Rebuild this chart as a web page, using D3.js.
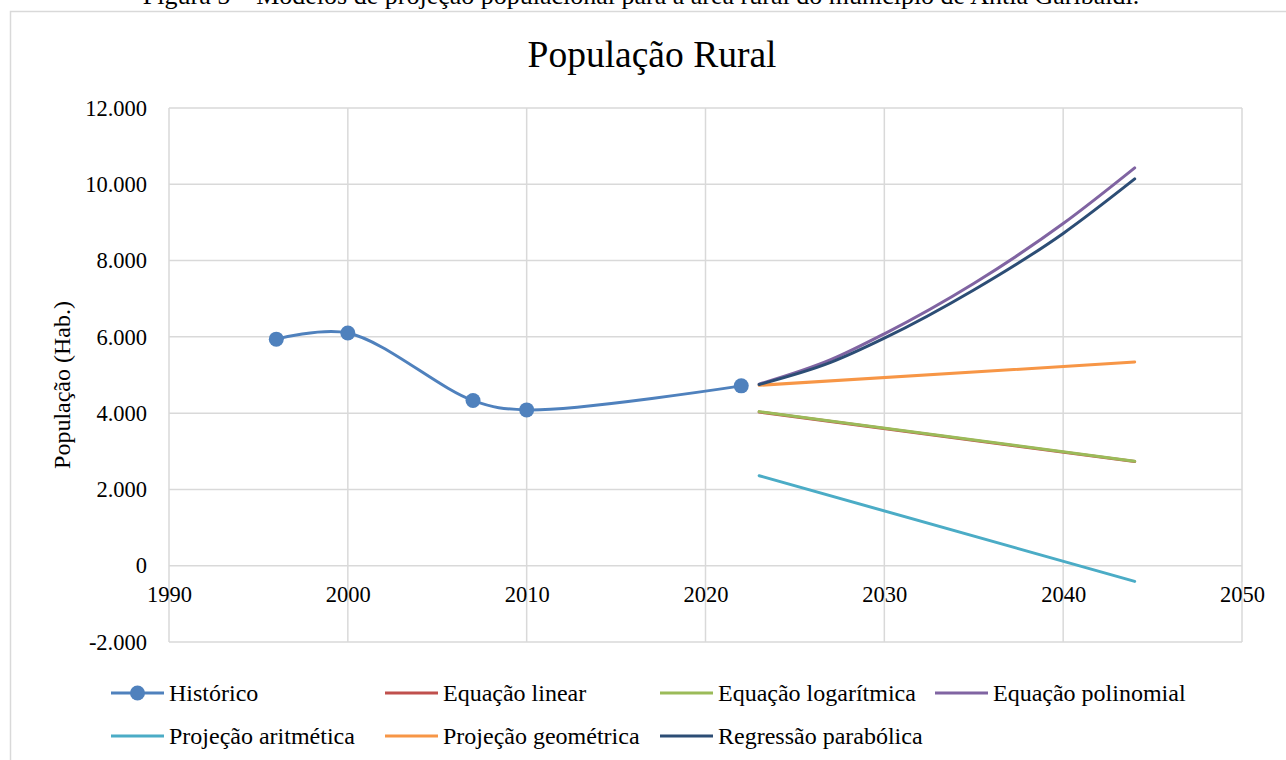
<!DOCTYPE html>
<html>
<head>
<meta charset="utf-8">
<script src="https://cdn.jsdelivr.net/npm/d3@7"></script>
<style>
  body { margin: 0; background: #fff; }
  svg { display: block; font-family: "Liberation Serif", "Times New Roman", serif; }
</style>
</head>
<body>
<div id="chart"></div>
<script>
// populacao rural - historico e projecoes

const histYears = [1996, 2000, 2007, 2010, 2022]
const histPop = [5940, 6100, 4330, 4085, 4715]

const lineYears = [2023, 2044]
const linearPop = [4030, 2730]
const logPop = [4040, 2740]
const arithPop = [2360, -410]
const geoPop = [4730, 5340]

const curveYears = [2023, 2027, 2030, 2035, 2040, 2044]
const polyPop = [4760, 5400, 6080, 7400, 8970, 10430]
const paraPop = [4750, 5330, 5965, 7230, 8712, 10140]

const xTicks = [1990, 2000, 2010, 2020, 2030, 2040, 2050]
const yTicks = [-2000, 0, 2000, 4000, 6000, 8000, 10000, 12000]

const seriesNames = ["Histórico", "Equação linear", "Equação logarítmica", "Equação polinomial",
  "Projeção aritmética", "Projeção geométrica", "Regressão parabólica"]
const seriesColors = ["#4f81bd", "#c0504d", "#9bbb59", "#8064a2", "#4bacc6", "#f79646", "#2c4d75"]

const width = 1286, height = 760
const plot = { left: 169, right: 1242, top: 108, bottom: 642 }

const ptBR = d3.formatLocale({ decimal: ",", thousands: ".", grouping: [3], currency: ["R$", ""], minus: "-" })
const fmt = ptBR.format(",d")

const svg = d3.select("#chart").append("svg")
  .attr("width", width)
  .attr("height", height)

// legenda da figura (cortada no topo)
svg.append("text")
  .attr("x", 641).attr("y", 4)
  .attr("text-anchor", "middle")
  .style("font-size", "26px")
  .text("Figura 5 – Modelos de projeção populacional para a área rural do município de Antia Garibaldi.")

// borda do grafico
svg.append("rect")
  .attr("x", 10.5).attr("y", 11.5)
  .attr("width", 1290).attr("height", 780)
  .attr("fill", "none")
  .attr("stroke", "#d9d9d9")
  .attr("stroke-width", 1.5)

const x = d3.scaleLinear().domain([1990, 2050]).range([plot.left, plot.right])
const y = d3.scaleLinear().domain([-2000, 12000]).range([plot.bottom, plot.top])

// grade
svg.append("g").selectAll("line")
  .data(yTicks).enter().append("line")
  .attr("x1", plot.left).attr("x2", plot.right)
  .attr("y1", d => y(d)).attr("y2", d => y(d))
  .attr("stroke", "#d9d9d9").attr("stroke-width", 1.5)

svg.append("g").selectAll("line")
  .data(xTicks).enter().append("line")
  .attr("x1", d => x(d)).attr("x2", d => x(d))
  .attr("y1", plot.top).attr("y2", plot.bottom)
  .attr("stroke", "#d9d9d9").attr("stroke-width", 1.5)

// eixos
const yAxis = svg.append("g")
  .attr("transform", "translate(" + plot.left + ",0)")
  .call(d3.axisLeft(y).tickValues(yTicks).tickFormat(fmt).tickSize(0).tickPadding(22))
yAxis.select(".domain").remove()
yAxis.selectAll("text").style("font-size", "22.5px").attr("fill", "#000").style("font-family", "Liberation Serif")

const xAxis = svg.append("g")
  .attr("transform", "translate(0," + y(0) + ")")
  .call(d3.axisBottom(x).tickValues(xTicks).tickFormat(d3.format("d")).tickSize(0).tickPadding(20))
xAxis.select(".domain").remove()
xAxis.selectAll("text").style("font-size", "22.5px").attr("fill", "#000").style("font-family", "Liberation Serif")

// titulo
svg.append("text")
  .attr("x", 652).attr("y", 67)
  .attr("text-anchor", "middle")
  .style("font-size", "37.5px")
  .text("População Rural")

svg.append("text")
  .attr("transform", "translate(70,385) rotate(-90)")
  .attr("text-anchor", "middle")
  .style("font-size", "24px")
  .text("População (Hab.)")

// series
const zip = (xs, ys) => xs.map((d, i) => [d, ys[i]])
const series = [
  { pts: zip(histYears, histPop), curve: d3.curveCatmullRom.alpha(0.5) },
  { pts: zip(lineYears, linearPop), curve: d3.curveLinear },
  { pts: zip(lineYears, logPop), curve: d3.curveLinear },
  { pts: zip(curveYears, polyPop), curve: d3.curveMonotoneX },
  { pts: zip(lineYears, arithPop), curve: d3.curveLinear },
  { pts: zip(lineYears, geoPop), curve: d3.curveLinear },
  { pts: zip(curveYears, paraPop), curve: d3.curveMonotoneX }
]

series.forEach(function (s, i) {
  const line = d3.line().x(d => x(d[0])).y(d => y(d[1])).curve(s.curve)
  svg.append("path")
    .attr("d", line(s.pts))
    .attr("fill", "none")
    .attr("stroke", seriesColors[i])
    .attr("stroke-width", 3)
    .attr("stroke-linecap", "round")
})

svg.append("g").selectAll("circle")
  .data(series[0].pts).enter().append("circle")
  .attr("cx", d => x(d[0])).attr("cy", d => y(d[1]))
  .attr("r", 7.5)
  .attr("fill", seriesColors[0])

// legenda
const legX = [111, 385, 660, 935]
const legY = [693, 736]
const leg = svg.append("g").selectAll("g")
  .data(seriesNames).enter().append("g")
  .attr("transform", (d, i) => "translate(" + legX[i % 4] + "," + legY[Math.floor(i / 4)] + ")")

leg.append("line")
  .attr("x1", 0).attr("x2", 53)
  .attr("stroke", (d, i) => seriesColors[i])
  .attr("stroke-width", 3)

leg.filter((d, i) => i === 0).append("circle")
  .attr("cx", 26.5).attr("r", 7.5)
  .attr("fill", seriesColors[0])

leg.append("text")
  .attr("x", 58).attr("dy", "0.34em")
  .style("font-size", "24px")
  .text(d => d)
</script>
</body>
</html>
